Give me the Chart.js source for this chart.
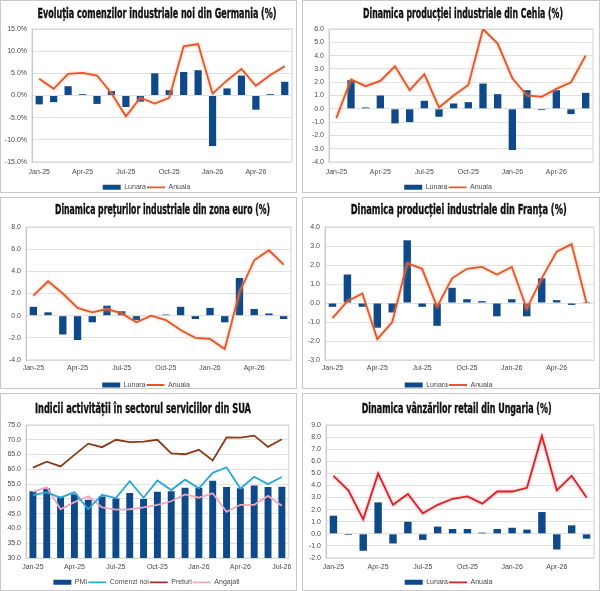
<!DOCTYPE html>
<html>
<head>
<meta charset="utf-8">
<script src="https://cdn.jsdelivr.net/npm/chart.js@4.4.1/dist/chart.umd.min.js"></script>
<style>
  body { margin: 0; background: #fff; width: 600px; height: 591px; position: relative; overflow: hidden; }
  .panel { position: absolute; box-sizing: border-box; border: 1px solid #c9c9c9; background: #fff; }
  .panel canvas { display: block; }
</style>
</head>
<body>
<div class="panel" style="left:0;top:0;width:297px;height:193px"><canvas id="germany"></canvas></div>
<div class="panel" style="left:302px;top:0;width:298px;height:193px"><canvas id="cehia"></canvas></div>
<div class="panel" style="left:0;top:197px;width:297px;height:192px"><canvas id="euro"></canvas></div>
<div class="panel" style="left:302px;top:197px;width:298px;height:192px"><canvas id="franta"></canvas></div>
<div class="panel" style="left:0;top:393px;width:297px;height:198px"><canvas id="sua"></canvas></div>
<div class="panel" style="left:302px;top:393px;width:298px;height:198px"><canvas id="ungaria"></canvas></div>
<script>
// ********** data ************
const months = [
  "Jan-25", "Feb-25", "Mar-25", "Apr-25", "May-25", "Jun-25", "Jul-25",
  "Aug-25", "Sep-25", "Oct-25", "Nov-25", "Dec-25", "Jan-26", "Feb-26",
  "Mar-26", "Apr-26", "May-26", "Jun-26", "Jul-26",
];
const months18 = months.slice(0, 18);

// Germania - comenzi industriale noi (%)
const germanyLunara = [-2.0, -1.5, 2.1, 0.3, -1.9, 1.0, -2.6, -1.4, 5.0, 1.2, 5.3, 5.7, -11.4, 1.6, 4.5, -3.2, 0.3, 3.1];
const germanyAnuala = [3.8, 1.5, 4.9, 5.1, 4.5, 0.5, -4.7, -0.5, -1.8, -0.5, 11.1, 11.6, 0.4, 3.4, 6.0, 2.2, 4.6, 6.6];

// Cehia - productie industriala (%)
const cehiaLunara = [null, 2.15, 0.1, 1.0, -1.1, -1.0, 0.6, -0.6, 0.4, 0.5, 1.9, 1.1, -3.1, 1.4, -0.1, 1.4, -0.4, 1.2];
const cehiaAnuala = [-0.7, 2.2, 1.7, 2.1, 3.2, 1.4, 2.6, 0.1, 1.0, 1.8, 6.0, 4.9, 2.3, 1.0, 0.9, 1.5, 2.0, 4.0];

// Zona euro - preturi industriale (%)
const euroLunara = [0.8, 0.3, -1.7, -2.2, -0.6, 0.9, 0.4, -0.4, 0.0, 0.1, 0.8, -0.3, 0.7, -0.6, 3.4, 0.6, 0.2, -0.3];
const euroAnuala = [1.8, 3.1, 2.0, 0.7, 0.3, 0.6, 0.2, -0.6, 0.0, -0.4, -1.3, -2.0, -2.1, -3.0, 2.1, 5.0, 5.9, 4.6];

// Franta - productie industriala (%)
const frantaLunara = [-0.2, 1.5, -0.2, -1.3, -0.5, 3.3, -0.2, -1.2, 0.8, 0.2, 0.1, -0.7, 0.2, -0.7, 1.3, 0.15, -0.1, 0.05];
const frantaAnuala = [-0.8, 0.1, 0.5, -1.9, -1.0, 2.1, 1.8, -0.2, 1.3, 1.8, 1.9, 1.5, 1.9, -0.3, 1.3, 2.7, 3.1, 0.0];

// SUA - servicii
const suaPmi = [52.6, 53.5, 50.7, 51.6, 49.7, 50.8, 50.1, 52.0, 50.0, 52.4, 52.6, 53.8, 53.8, 56.1, 54.0, 53.6, 54.5, 54.0, 54.1];
const suaComenzi = [51.3, 52.2, 50.4, 52.3, 46.5, 51.4, 50.3, 56.0, 50.4, 56.2, 53.0, 56.5, 53.6, 58.8, 60.7, 53.5, 57.5, 55.0, 57.4];
const suaPreturi = [60.6, 62.6, 61.0, 64.9, 68.7, 67.5, 70.0, 69.2, 69.4, 70.0, 65.4, 65.1, 66.6, 63.0, 70.8, 70.7, 71.4, 67.6, 70.2];
const suaAngajati = [52.4, 54.0, 46.5, 48.9, 50.9, 47.1, 46.4, 46.5, 47.1, 48.0, 49.2, 51.5, 50.4, 51.9, 45.6, 48.0, 48.0, 51.0, 47.7];

// Ungaria - vanzari retail (%)
const ungariaLunara = [1.5, -0.1, -1.4, 2.6, -0.8, 1.0, -0.5, 0.6, 0.4, 0.4, 0.1, 0.4, 0.5, 0.35, 1.8, -1.3, 0.7, -0.4];
const ungariaAnuala = [4.8, 3.6, 1.2, 5.0, 2.4, 3.3, 1.7, 2.4, 2.9, 3.1, 2.5, 3.5, 3.5, 3.8, 8.1, 3.6, 4.8, 3.0];

// ********** colors / fonts ************
const BLUE = "#0e4a8a";
const ORANGE = "#e4572e";
const RED = "#d9222a";
const CYAN = "#2ba6d8";
const BROWN = "#8b3b1b";
const PINK = "#f0a6bd";
const TEXT = "#4a4a4a";
const tickFont = { family: "'Liberation Sans', Arial, sans-serif", size: 7 };

// frame around the plot area, like excel
const frame = {
  id: "frame",
  beforeDatasetsDraw(chart) {
    const a = chart.chartArea;
    const ctx = chart.ctx;
    ctx.save();
    ctx.strokeStyle = "#d4d4d4";
    ctx.lineWidth = 1;
    ctx.strokeRect(a.left, a.top, a.right - a.left, a.bottom - a.top);
    ctx.restore();
  },
};

// soft glow under the yearly lines
const glow = {
  id: "glow",
  beforeDatasetDraw(chart, args) {
    const ds = chart.data.datasets[args.index];
    if (ds.glow) {
      chart.ctx.save();
      chart.ctx.shadowColor = ds.glow;
      chart.ctx.shadowBlur = 3;
    }
  },
  afterDatasetDraw(chart, args) {
    if (chart.data.datasets[args.index].glow) chart.ctx.restore();
  },
};

// legend box height fixed, so it sits near the bottom edge
const legendFit = {
  id: "legendFit",
  beforeInit(chart) {
    const fit = chart.legend.fit;
    chart.legend.fit = function () {
      fit.bind(chart.legend)();
      this.height = chart.options.legendHeight;
    };
  },
};

// condensed bold title (squeezed to the width used in the original)
const ctitle = {
  id: "ctitle",
  afterDraw(chart, args, opts) {
    const ctx = chart.ctx;
    ctx.save();
    ctx.font = "bold 13.5px 'DejaVu Sans Condensed', 'DejaVu Sans', sans-serif";
    ctx.fillStyle = "#111";
    ctx.strokeStyle = "#111";
    ctx.lineWidth = 0.35;
    ctx.textAlign = "center";
    ctx.textBaseline = "middle";
    ctx.fillText(opts.text, opts.x, opts.y, opts.w);
    ctx.strokeText(opts.text, opts.x, opts.y, opts.w);
    ctx.restore();
  },
};

function barSet(label, data) {
  return {
    type: "bar",
    label: label,
    data: data,
    backgroundColor: BLUE,
    borderWidth: 0,
    categoryPercentage: 0.5,
    barPercentage: 1,
    pointStyle: "rect",
    order: 2,
  };
}

function lineSet(label, data, color, glowColor) {
  return {
    type: "line",
    label: label,
    data: data,
    borderColor: color,
    backgroundColor: color,
    borderWidth: 1.8,
    pointRadius: 0,
    tension: 0,
    pointStyle: "line",
    glow: glowColor,
    order: 1,
  };
}

function makeChart(id, title, labels, datasets, y, pad) {
  return new Chart(document.getElementById(id), {
    data: { labels: labels, datasets: datasets },
    plugins: [frame, glow, legendFit, ctitle],
    options: {
      responsive: true,
      maintainAspectRatio: false,
      animation: false,
      legendHeight: pad.legend,
      layout: { padding: { left: 0, right: pad.right, top: pad.top, bottom: 0 } },
      plugins: {
        ctitle: { text: title, x: title.x, y: pad.ty, w: title.w },
        legend: {
          position: "bottom",
          labels: {
            usePointStyle: true,
            pointStyleWidth: 18,
            boxHeight: 5,
            padding: 1,
            color: TEXT,
            font: tickFont,
            sort: function (a, b) {
              return a.datasetIndex - b.datasetIndex;
            },
          },
        },
        tooltip: { enabled: false },
      },
      scales: {
        x: {
          offset: true,
          grid: { display: false, drawTicks: false },
          border: { display: false },
          ticks: {
            color: TEXT,
            font: tickFont,
            autoSkip: false,
            maxRotation: 0,
            padding: pad.xpad,
            callback: function (v, i) {
              return i % 3 === 0 ? labels[i] : "";
            },
          },
          afterFit: function (scale) {
            scale.height = pad.xh;
          },
        },
        y: {
          min: y.min,
          max: y.max,
          grid: { color: "#e1e1e1", drawTicks: false },
          border: { display: true, color: "#bdbdbd" },
          ticks: {
            stepSize: y.step,
            color: TEXT,
            font: tickFont,
            padding: 5,
            callback: function (v) {
              return v.toFixed(1) + (y.suffix || "");
            },
          },
          afterFit: function (scale) {
            scale.width = pad.axis;
          },
        },
      },
    },
  });
}

// layout numbers per row
const rowTop = { right: 4, top: 28, ty: 13, legend: 9.2, xh: 20.8, xpad: 5.8 };
const rowMid = { right: 4, top: 29, ty: 12.7, legend: 7.5, xh: 20.5, xpad: 3.8 };
const rowBot = { right: 4, top: 31, ty: 15, legend: 12.2, xh: 19.8, xpad: 4.5 };

function titled(text, x, w) {
  const t = new String(text);
  t.x = x;
  t.w = w;
  return t;
}

// ********** charts ************
makeChart("germany", titled("Evoluția comenzilor industriale noi din Germania (%)", 156, 239), months18,
  [barSet("Lunara", germanyLunara), lineSet("Anuala", germanyAnuala, ORANGE, "rgba(245,160,110,0.8)")],
  { min: -15, max: 15, step: 5, suffix: "%" },
  Object.assign({}, rowTop, { axis: 31 }));

makeChart("cehia", titled("Dinamica producției industriale din Cehia (%)", 160, 200), months18,
  [barSet("Lunara", cehiaLunara), lineSet("Anuala", cehiaAnuala, ORANGE, "rgba(245,160,110,0.8)")],
  { min: -4, max: 6, step: 1 },
  Object.assign({}, rowTop, { axis: 26, right: 6 }));

makeChart("euro", titled("Dinamica prețurilor industriale din zona euro (%)", 161.5, 215), months18,
  [barSet("Lunara", euroLunara), lineSet("Anuala", euroAnuala, ORANGE, "rgba(245,160,110,0.8)")],
  { min: -4, max: 8, step: 2 },
  Object.assign({}, rowMid, { axis: 25, right: 5 }));

makeChart("franta", titled("Dinamica producției industriale din Franța (%)", 155.7, 216), months18,
  [barSet("Lunara", frantaLunara), lineSet("Anuala", frantaAnuala, ORANGE, "rgba(245,160,110,0.8)")],
  { min: -3, max: 4, step: 1 },
  Object.assign({}, rowMid, { axis: 22, right: 5 }));

makeChart("sua", titled("Indicii activității în sectorul serviciilor din SUA", 142, 216), months,
  [
    barSet("PMI", suaPmi),
    lineSet("Comenzi noi", suaComenzi, CYAN),
    lineSet("Preturi", suaPreturi, BROWN),
    lineSet("Angajati", suaAngajati, PINK),
  ],
  { min: 30, max: 75, step: 5 },
  Object.assign({}, rowBot, { axis: 25 }));

makeChart("ungaria", titled("Dinamica vânzărilor retail din Ungaria (%)", 153.7, 190), months18,
  [barSet("Lunara", ungariaLunara), lineSet("Anuala", ungariaAnuala, RED, "rgba(240,130,130,0.8)")],
  { min: -2, max: 9, step: 1 },
  Object.assign({}, rowBot, { axis: 23, right: 5 }));
</script>
</body>
</html>
